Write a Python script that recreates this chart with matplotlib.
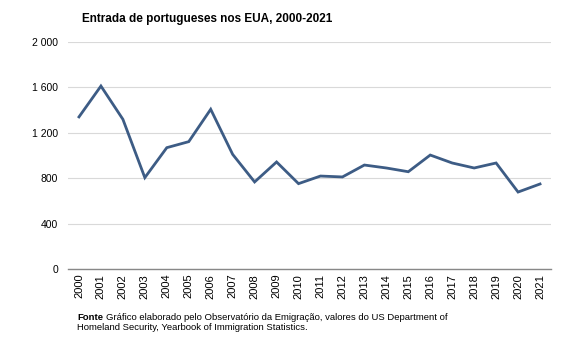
import matplotlib.pyplot as plt
import matplotlib.ticker as mticker

plt.rcParams['font.family'] = ['Liberation Sans', 'DejaVu Sans']

# annual entries of Portuguese nationals into the USA
years = [str(y) for y in range(2000, 2022)]
entradas = [1340, 1612, 1319, 805, 1069, 1122, 1407, 1010, 767, 943, 752,
            819, 811, 916, 890, 857, 1004, 934, 890, 934, 678, 749]
yticks = [0, 400, 800, 1200, 1600, 2000]

fig = plt.figure(figsize=(5.67, 3.4), dpi=100)
ax = fig.add_axes([68 / 567, 1 - 269 / 340, (551 - 68) / 567, (269 - 42) / 340])

x = list(range(len(years)))
ax.plot(x, entradas, color='#3d5c85', lw=2, solid_joinstyle='miter')

ax.set_xlim(-0.5, len(years) - 0.5)
ax.set_ylim(0, 2000)
ax.set_yticks(yticks)
ax.yaxis.set_major_formatter(mticker.FuncFormatter(lambda v, p: f'{int(v):,}'.replace(',', ' ')))
ax.set_xticks(x)
ax.set_xticklabels(years, rotation=90)
ax.tick_params(axis='both', length=0, labelsize=7.5, colors='#000000')
ax.tick_params(axis='x', pad=3.5, labelsize=8)
ax.tick_params(axis='y', pad=7)

ax.grid(axis='y', color='#d9d9d9', lw=0.8)
ax.set_axisbelow(True)
for s in ['top', 'right', 'left']:
    ax.spines[s].set_visible(False)
ax.spines['bottom'].set_color('#888888')
ax.spines['bottom'].set_linewidth(1)

fig.text(82 / 567, 1 - 19 / 340, 'Entrada de portugueses nos EUA, 2000-2021',
         fontsize=8.5, fontweight='bold', va='center', ha='left')

fig.text(77 / 567, 1 - 317 / 340, 'Fonte', fontsize=6.8, fontweight='bold', va='center', ha='left')
fig.text(106 / 567, 1 - 317 / 340,
         'Gráfico elaborado pelo Observatório da Emigração, valores do US Department of',
         fontsize=6.8, va='center', ha='left')
fig.text(77 / 567, 1 - 327 / 340,
         'Homeland Security, Yearbook of Immigration Statistics.',
         fontsize=6.8, va='center', ha='left')

fig.savefig('out.png', dpi=100)
